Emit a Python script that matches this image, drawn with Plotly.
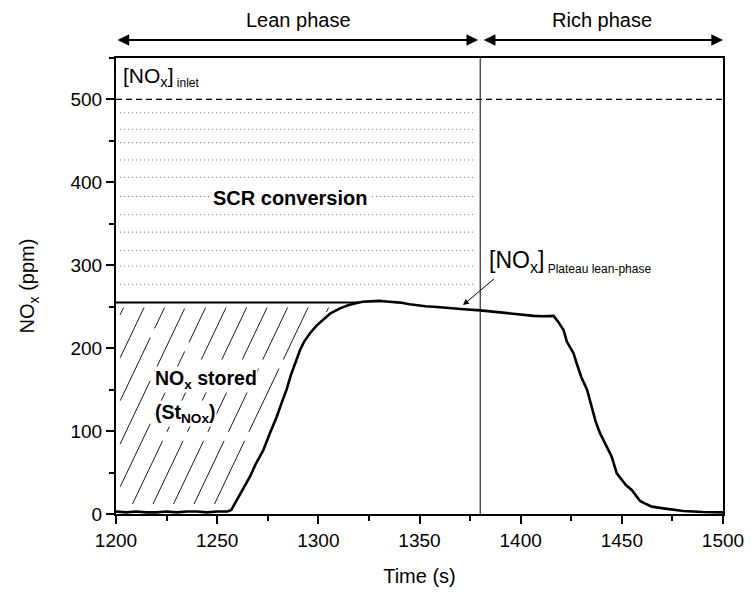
import numpy as np
import plotly.graph_objects as go

# ---------------- data ----------------
time_s = [1200, 1205, 1210, 1215, 1220, 1225, 1230, 1235, 1240, 1245, 1250, 1255,
          1257, 1259.7, 1263, 1266.2, 1269, 1272.8, 1276, 1279.4, 1282, 1284.3,
          1286.5, 1288.5, 1291, 1293, 1295.9, 1299, 1302.5, 1306, 1310.7, 1315,
          1319, 1322, 1325.6, 1330, 1335, 1340.5, 1345, 1348.7, 1353, 1358.6,
          1365, 1372, 1380, 1390, 1398, 1406.4, 1411, 1416.3, 1418.5, 1421.2,
          1422.8, 1424.6, 1426.1, 1427.9, 1430, 1432.8, 1435.3, 1437, 1439.2,
          1442, 1445, 1447.5, 1450, 1452, 1454.9, 1457, 1459, 1462, 1464.8,
          1470.5, 1475, 1480.4, 1490, 1500]
nox_ppm = [3, 2, 3, 2, 2, 3, 2, 3, 3, 2, 3, 3,
           5, 17, 30, 45, 60, 77, 97, 117, 135, 150,
           168, 182, 198, 208, 218, 227, 234, 242, 248, 252,
           254.5, 256, 256.4, 257, 256, 255, 253, 251.6, 250.5, 249.6,
           248, 247, 245.6, 243, 241, 239, 238.5, 239, 232, 222,
           208, 200, 194, 180, 165, 150, 126, 112, 97.5,
           83, 69, 49, 41, 35, 29, 22, 15.7, 12, 8.9,
           6.8, 5, 3.6, 2.5, 2]

inlet_ppm = 500
plateau_ppm = 255
phase_switch = 1380
x_range = [1200, 1500]
y_range = [0, 550]
x_ticks = [1200, 1250, 1300, 1350, 1400, 1450, 1500]
y_ticks = [0, 100, 200, 300, 400, 500]
scr_levels = [277, 299, 318, 340, 361, 383, 406, 427, 448, 464, 484]

# ---------------- layout geometry ----------------
W, H = 752, 592
ML, MR, MT, MB = 116, 29, 58, 78
PW, PH = W - ML - MR, H - MT - MB
px_per_s = PW / (x_range[1] - x_range[0])
px_per_ppm = PH / (y_range[1] - y_range[0])

FONT = "Arial, Liberation Sans, sans-serif"
fig = go.Figure()

# dotted SCR conversion lines
for lv in scr_levels:
    fig.add_trace(go.Scatter(x=[1202, 1378], y=[lv, lv], mode="lines",
                             line=dict(color="#555", width=0.8, dash="1px,3px"),
                             hoverinfo="skip", showlegend=False))

# inlet dashed line
fig.add_trace(go.Scatter(x=x_range, y=[inlet_ppm, inlet_ppm], mode="lines",
                         line=dict(color="black", width=1.2, dash="6px,4px"),
                         hoverinfo="skip", showlegend=False))

# hatch lines (NOx stored region), computed from the curve
t_arr = np.array(time_s)
n_arr = np.array(nox_ppm)
rise_mask = (t_arr >= 1255) & (t_arr <= 1330)
t_rise, n_rise = t_arr[rise_mask], n_arr[rise_mask]
slope_px = 2.1
y_lo, y_hi = 12, plateau_ppm - 6
hx, hy = [], []
for c in np.arange(-250, 400, 20.5):
    ys = np.linspace(y_lo, y_hi, 400)
    yp = (ys - y_lo) * px_per_ppm
    xp = c + yp / slope_px
    xs = x_range[0] + xp / px_per_s
    xc = np.interp(ys, n_rise, t_rise) - 3.0
    inside = (xs >= x_range[0] + 2) & (xs <= xc)
    if inside.sum() < 2:
        continue
    idx = np.where(inside)[0]
    hx += [xs[idx[0]], xs[idx[-1]], None]
    hy += [ys[idx[0]], ys[idx[-1]], None]
fig.add_trace(go.Scatter(x=hx, y=hy, mode="lines",
                         line=dict(color="black", width=0.9, dash="70px,10px"),
                         hoverinfo="skip", showlegend=False))

# plateau line
cross_t = float(np.interp(plateau_ppm, n_rise, t_rise))
fig.add_trace(go.Scatter(x=[x_range[0], cross_t], y=[plateau_ppm, plateau_ppm],
                         mode="lines", line=dict(color="black", width=2),
                         hoverinfo="skip", showlegend=False))

# vertical phase switch line
fig.add_trace(go.Scatter(x=[phase_switch, phase_switch], y=y_range, mode="lines",
                         line=dict(color="black", width=1),
                         hoverinfo="skip", showlegend=False))

# NOx curve
fig.add_trace(go.Scatter(x=time_s, y=nox_ppm, mode="lines",
                         line=dict(color="black", width=2.6),
                         showlegend=False))

ann = []
# phase arrows
ann.append(dict(x=phase_switch - 1, y=1.0395, xref="x", yref="paper",
                ax=x_range[0], ay=0, axref="x", ayref="pixel", text="",
                showarrow=True, arrowside="end+start", arrowhead=2,
                arrowsize=1.3, arrowwidth=1.8, arrowcolor="black"))
ann.append(dict(x=x_range[1], y=1.0395, xref="x", yref="paper",
                ax=phase_switch + 1, ay=0, axref="x", ayref="pixel", text="",
                showarrow=True, arrowside="end+start", arrowhead=2,
                arrowsize=1.3, arrowwidth=1.8, arrowcolor="black"))
ann.append(dict(x=1290, y=1.083, xref="x", yref="paper", yanchor="middle",
                text="Lean phase",
                showarrow=False, font=dict(size=20, color="black", family=FONT)))
ann.append(dict(x=1440, y=1.083, xref="x", yref="paper", yanchor="middle",
                text="Rich phase",
                showarrow=False, font=dict(size=20, color="black", family=FONT)))
# inlet label
ann.append(dict(x=1202.5, y=527, xref="x", yref="y", xanchor="left", yanchor="middle",
                text="[NO<sub>x</sub>]<sub><span style='font-size:12px'> inlet</span></sub>",
                showarrow=False,
                font=dict(size=21, color="black", family=FONT)))
# SCR conversion
ann.append(dict(x=1286, y=381, xref="x", yref="y", yanchor="middle",
                text="<b>SCR conversion</b>", showarrow=False, bgcolor="white",
                borderpad=2, font=dict(size=20, color="black", family=FONT)))
# plateau label
ann.append(dict(x=1383.5, y=304, xref="x", yref="y", xanchor="left", yanchor="middle",
                text="[NO<sub>x</sub>]<sub><span style='font-size:12px'> Plateau lean-phase</span></sub>",
                showarrow=False,
                font=dict(size=23, color="black", family=FONT)))
ann.append(dict(x=1371.5, y=252, xref="x", yref="y", ax=1387.5, ay=285,
                axref="x", ayref="y", text="", showarrow=True, arrowhead=2,
                arrowsize=1.2, arrowwidth=1, arrowcolor="black"))
# NOx stored
ann.append(dict(x=1219, y=162, xref="x", yref="y", xanchor="left", yanchor="middle",
                text="<b>NO<sub>x</sub> stored</b>", showarrow=False, bgcolor="white",
                borderpad=0, font=dict(size=19.5, color="black", family=FONT)))
ann.append(dict(x=1219, y=121, xref="x", yref="y", xanchor="left", yanchor="middle",
                text="<b>(St<sub>NOx</sub>)</b>", showarrow=False, bgcolor="white",
                borderpad=0, font=dict(size=19.5, color="black", family=FONT)))

axis_common = dict(showgrid=False, zeroline=False, showline=True, linecolor="black",
                   linewidth=2, mirror=True, ticks="outside", ticklen=8, tickwidth=1.5,
                   tickcolor="black", automargin=False,
                   tickfont=dict(size=19, color="black", family=FONT))

fig.update_layout(
    width=W, height=H,
    margin=dict(l=ML, r=MR, t=MT, b=MB, autoexpand=False),
    paper_bgcolor="white", plot_bgcolor="white",
    font=dict(family=FONT, color="black"),
    annotations=ann,
    xaxis=dict(range=x_range, tickvals=x_ticks,
               minor=dict(dtick=25, ticks="outside", ticklen=5, tickwidth=1.5, tickcolor="black"),
               title=dict(text="Time (s)", font=dict(size=20, family=FONT), standoff=19),
               **axis_common),
    yaxis=dict(range=y_range, tickvals=y_ticks,
               minor=dict(dtick=50, ticks="outside", ticklen=5, tickwidth=1.5, tickcolor="black"),
               title=dict(text="NO<sub>x</sub> (ppm)", font=dict(size=20, family=FONT), standoff=30),
               **axis_common),
)

fig.write_html("out.html")
